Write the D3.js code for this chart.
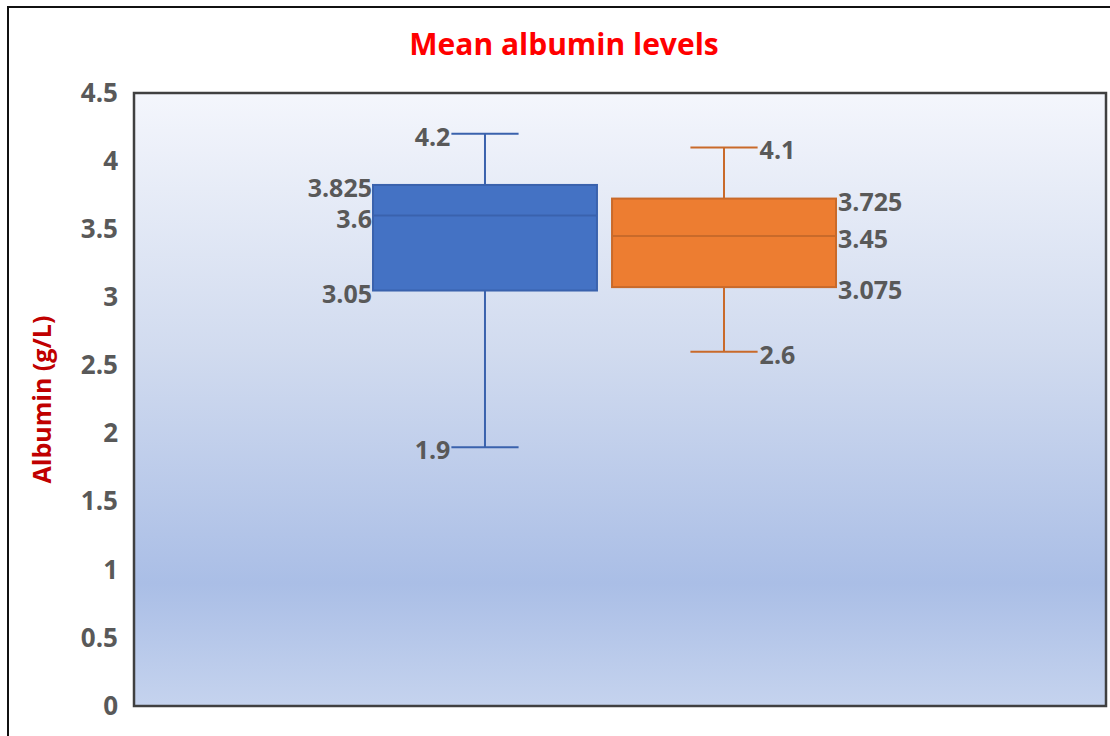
<!DOCTYPE html>
<html>
<head>
<meta charset="utf-8">
<script src="https://cdn.jsdelivr.net/npm/d3@7"></script>
<style>
  body { margin: 0; background: #fff; }
  svg { display: block; }
</style>
</head>
<body>
<div id="chart"></div>
<script>
// data
const seriesNames = ["Group A", "Group B"];
const seriesColors = ["#4472c4", "#ed7d31"];
const strokeColors = ["#3a62ad", "#c96a2a"];
const mins = [1.9, 2.6];
const q1s = [3.05, 3.075];
const medians = [3.6, 3.45];
const q3s = [3.825, 3.725];
const maxs = [4.2, 4.1];
const yTicks = [0, 0.5, 1, 1.5, 2, 2.5, 3, 3.5, 4, 4.5];

const W = 1110, H = 736;
const plot = { left: 134, top: 93, right: 1106, bottom: 706 };

const svg = d3.select("#chart").append("svg")
  .attr("width", W)
  .attr("height", H);

// outer frame
svg.append("rect")
  .attr("x", 8).attr("y", 7)
  .attr("width", W + 10).attr("height", H + 10)
  .attr("fill", "#fff")
  .attr("stroke", "#111")
  .attr("stroke-width", 2);

// background gradient
const grad = svg.append("defs").append("linearGradient")
  .attr("id", "bg")
  .attr("x1", 0).attr("y1", 0).attr("x2", 0).attr("y2", 1);
grad.append("stop").attr("offset", "0%").attr("stop-color", "#f4f6fc");
grad.append("stop").attr("offset", "42%").attr("stop-color", "#d1dbef");
grad.append("stop").attr("offset", "80%").attr("stop-color", "#aabee6");
grad.append("stop").attr("offset", "100%").attr("stop-color", "#c5d3ee");

const y = d3.scaleLinear()
  .domain([0, 4.5])
  .range([plot.bottom, plot.top]);

const x = d3.scaleBand()
  .domain(seriesNames)
  .range([plot.left + 239, plot.left + 702])
  .paddingInner(0.063)
  .paddingOuter(0);

svg.append("rect")
  .attr("x", plot.left).attr("y", plot.top)
  .attr("width", plot.right - plot.left)
  .attr("height", plot.bottom - plot.top)
  .attr("fill", "url(#bg)")
  .attr("stroke", "#404040")
  .attr("stroke-width", 2.5);

// y axis labels
const yAxis = svg.append("g")
  .attr("transform", `translate(${plot.left},0)`)
  .call(d3.axisLeft(y).tickValues(yTicks).tickSize(0).tickPadding(16).tickFormat(d3.format("")));
yAxis.select(".domain").remove();
yAxis.selectAll("text")
  .attr("fill", "#595959")
  .style("font-family", "'Open Sans', sans-serif")
  .style("font-weight", 700)
  .style("font-size", "26px");

// title
svg.append("text")
  .attr("x", 564)
  .attr("y", 55)
  .attr("text-anchor", "middle")
  .attr("fill", "#ff0000")
  .style("font-family", "'Open Sans', sans-serif")
  .style("font-weight", 700)
  .style("font-size", "30px")
  .text("Mean albumin levels");

svg.append("text")
  .attr("transform", `translate(51,${(plot.top + plot.bottom) / 2}) rotate(-90)`)
  .attr("text-anchor", "middle")
  .attr("fill", "#c00000")
  .style("font-family", "'Open Sans', sans-serif")
  .style("font-weight", 700)
  .style("font-size", "25px")
  .text("Albumin (g/L)");

const rows = seriesNames.map((name, i) => ({
  name, i,
  min: mins[i], q1: q1s[i], med: medians[i], q3: q3s[i], max: maxs[i]
}));

const boxes = svg.append("g")
  .selectAll("g")
  .data(rows)
  .join("g");

const bw = x.bandwidth();
const capW = bw * 0.3;

// whiskers
boxes.append("line")
  .attr("x1", d => x(d.name) + bw / 2).attr("x2", d => x(d.name) + bw / 2)
  .attr("y1", d => y(d.max)).attr("y2", d => y(d.min))
  .attr("stroke", d => strokeColors[d.i])
  .attr("stroke-width", 2);

["min", "max"].forEach(k => {
  boxes.append("line")
    .attr("x1", d => x(d.name) + bw / 2 - capW / 2)
    .attr("x2", d => x(d.name) + bw / 2 + capW / 2)
    .attr("y1", d => y(d[k])).attr("y2", d => y(d[k]))
    .attr("stroke", d => strokeColors[d.i])
    .attr("stroke-width", 2);
});

boxes.append("rect")
  .attr("x", d => x(d.name))
  .attr("y", d => y(d.q3))
  .attr("width", bw)
  .attr("height", d => y(d.q1) - y(d.q3))
  .attr("fill", d => seriesColors[d.i])
  .attr("stroke", d => strokeColors[d.i])
  .attr("stroke-width", 2);

boxes.append("line")
  .attr("x1", d => x(d.name)).attr("x2", d => x(d.name) + bw)
  .attr("y1", d => y(d.med)).attr("y2", d => y(d.med))
  .attr("stroke", d => strokeColors[d.i])
  .attr("stroke-width", 2);

// data labels
const labelStyle = sel => sel
  .attr("fill", "#595959")
  .attr("dominant-baseline", "central")
  .style("font-family", "'Open Sans', sans-serif")
  .style("font-weight", 700)
  .style("font-size", "25px");

rows.forEach(d => {
  const left = d.i === 0;
  const boxEdge = left ? x(d.name) : x(d.name) + bw;
  const capEdge = left ? x(d.name) + bw / 2 - capW / 2 : x(d.name) + bw / 2 + capW / 2;
  const anchor = left ? "end" : "start";
  const dx = left ? -1 : 2;
  [["q3", boxEdge], ["med", boxEdge], ["q1", boxEdge], ["max", capEdge], ["min", capEdge]].forEach(([k, xe]) => {
    svg.append("text")
      .attr("x", xe + dx)
      .attr("y", y(d[k]) + 2)
      .attr("text-anchor", anchor)
      .call(labelStyle)
      .text(d[k]);
  });
});
</script>
</body>
</html>
